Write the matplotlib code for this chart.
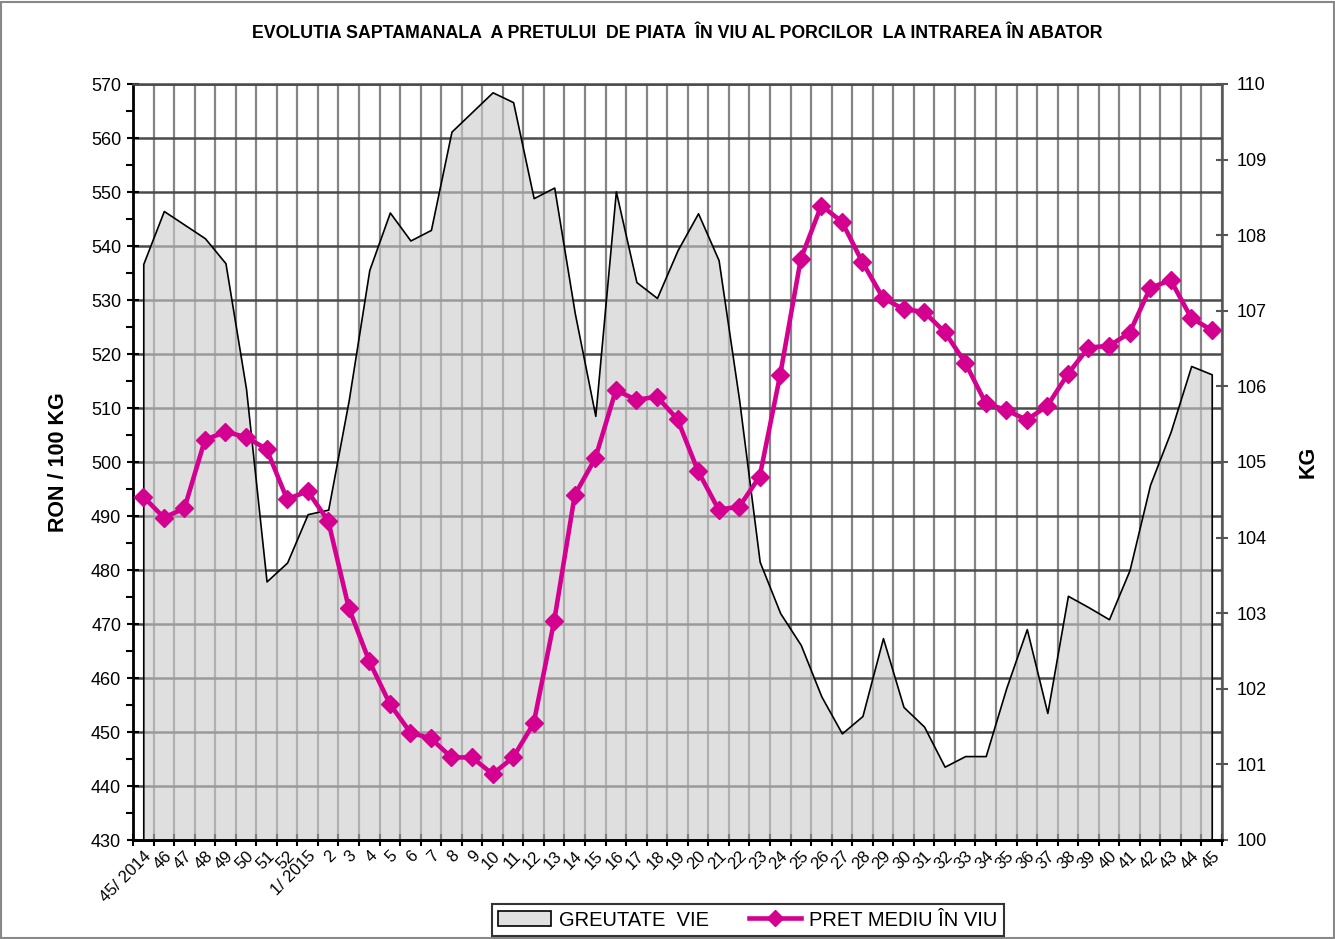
import numpy as np
import matplotlib
matplotlib.use("Agg")
import matplotlib.pyplot as plt
from matplotlib.patches import Rectangle, Patch
from matplotlib.lines import Line2D

plt.rcParams['font.family'] = ['Liberation Sans', 'DejaVu Sans']

categories = ["45/ 2014", "46", "47", "48", "49", "50", "51", "52", "1/ 2015"] + \
             [str(i) for i in range(2, 46)]

pret = [493.6, 489.7, 491.4, 504.1, 505.6, 504.6, 502.4, 493.1, 494.6, 489.1,
        473.0, 463.1, 455.2, 449.9, 448.8, 445.3, 445.3, 442.2, 445.3, 451.6,
        470.6, 493.9, 500.7, 513.3, 511.5, 512.1, 507.9, 498.3, 491.2, 491.7,
        497.3, 516.2, 537.6, 547.5, 544.5, 537.0, 530.4, 528.3, 527.8, 524.1,
        518.4, 510.9, 509.6, 507.8, 510.4, 516.3, 521.2, 521.5, 523.9, 532.2,
        533.7, 526.7, 524.4]

greutate = [107.62, 108.32, 108.14, 107.96, 107.63, 105.97, 103.42, 103.67, 104.31, 104.37,
            105.82, 107.54, 108.30, 107.93, 108.07, 109.37, 109.63, 109.89, 109.76, 108.49,
            108.63, 106.97, 105.61, 108.58, 107.38, 107.17, 107.80, 108.29, 107.67, 105.82,
            103.68, 103.00, 102.58, 101.90, 101.41, 101.64, 102.67, 101.76, 101.50, 100.97,
            101.11, 101.11, 102.01, 102.79, 101.68, 103.23, 103.08, 102.92, 103.57, 104.70,
            105.40, 106.27, 106.16]

MAGENTA = '#D4008F'
n = len(categories)
x = np.arange(n)

fig = plt.figure(figsize=(13.35, 9.39), dpi=100)
L, R, T, B = 133/1335, 1222/1335, 1-84/939, 1-840/939
ax = fig.add_axes([L, B, R-L, T-B])
ax.set_zorder(0)

# left axis
ax.set_xlim(-0.5, n-0.5)
ax.set_ylim(430, 570)
ax.set_yticks(np.arange(430, 571, 10))
ax.set_yticks(np.arange(435, 570, 10), minor=True)
ax.tick_params(axis='y', which='major', direction='inout', length=9, width=1.5, labelsize=13, pad=4)
ax.tick_params(axis='y', which='minor', direction='out', length=5, width=1.5)
ax.set_xticks(np.arange(-0.5, n, 1))
ax.set_xticklabels([])
ax.set_xticks(x, minor=True)
ax.set_xticklabels(categories, minor=True, rotation=45, ha='right', rotation_mode='anchor', fontsize=12)
ax.tick_params(axis='x', which='major', direction='inout', length=9, width=1.5)
ax.tick_params(axis='x', which='minor', length=0, pad=6)
ax.grid(axis='y', which='major', color='#4a4a4a', lw=1.8)
ax.grid(axis='x', which='major', color='#858585', lw=1.6)
ax.set_axisbelow(True)
for s in ['left', 'bottom']:
    ax.spines[s].set_linewidth(2)
    ax.spines[s].set_color('black')
ax.spines['top'].set_color('#4a4a4a')
ax.spines['top'].set_linewidth(1.8)
ax.spines['right'].set_visible(False)
ax.set_ylabel('RON / 100 KG', fontsize=15.5, fontweight='bold', labelpad=16)

# right axis with area
ax2 = ax.twinx()
ax2.set_zorder(1)
ax2.set_ylim(100, 110)
ax2.set_yticks(np.arange(100, 111, 1))
ax2.fill_between(x, 100, greutate, facecolor=(0.80, 0.80, 0.80, 0.62),
                 edgecolor='black', linewidth=1.2)
ax2.tick_params(axis='y', direction='inout', length=9, width=1.5, labelsize=13, pad=6,
                color='#555555')
for s in ['left', 'top']:
    ax2.spines[s].set_visible(False)
ax2.spines['bottom'].set_linewidth(2)
ax2.spines['bottom'].set_color('black')
ax2.spines['right'].set_color('#555555')
ax2.spines['right'].set_linewidth(1.8)
ax2.set_ylabel('KG', fontsize=15.5, fontweight='bold', labelpad=22)

# overlay for price line
ax3 = fig.add_axes(ax.get_position(), sharex=ax, sharey=ax)
ax3.set_zorder(2)
ax3.patch.set_visible(False)
ax3.axis('off')
ax3.plot(x, pret, color=MAGENTA, lw=3.3, marker='D', markersize=9.5,
         markeredgecolor=MAGENTA, markerfacecolor=MAGENTA, clip_on=False)

fig.text(677/1335, 1-33/939,
         'EVOLUTIA SAPTAMANALA  A PRETULUI  DE PIATA  ÎN VIU AL PORCILOR  LA INTRAREA ÎN ABATOR',
         ha='center', va='center', fontsize=12.8, fontweight='bold')

handles = [Patch(facecolor='#e0e0e0', edgecolor='black', linewidth=1.2),
           Line2D([0], [0], color=MAGENTA, lw=3.3, marker='D', markersize=8.5)]
leg = fig.legend(handles, ['GREUTATE  VIE', 'PRET MEDIU ÎN VIU'], loc='center',
                 bbox_to_anchor=(748/1335, 1-920/939), ncol=2, fontsize=14.5,
                 frameon=True, fancybox=False, edgecolor='black', handlelength=2.6,
                 columnspacing=2.0, borderpad=0.3, handletextpad=0.4)
leg.get_frame().set_linewidth(1.5)

fig.patches.append(Rectangle((0.001, 0.001), 0.998, 0.997, transform=fig.transFigure,
                             fill=False, edgecolor='#888888', linewidth=1.5))

fig.savefig('out.png', dpi=100)
